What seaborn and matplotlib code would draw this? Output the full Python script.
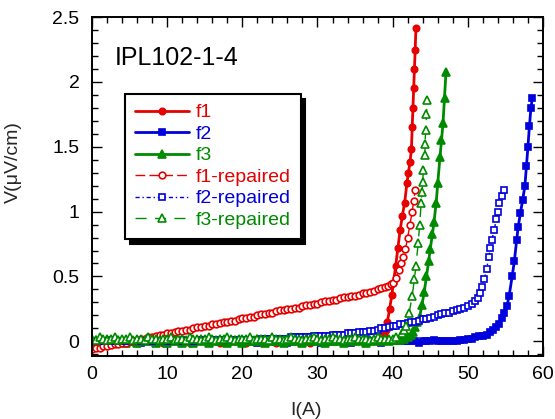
import matplotlib
matplotlib.use("Agg")
import matplotlib.pyplot as plt
import seaborn as sns
import pandas as pd
from matplotlib.ticker import MultipleLocator, FormatStrFormatter

# ---------------- data ----------------
# common current sweep 0 .. 48 A, step 0.5 A
I_sweep = [0.0, 0.5, 1.0, 1.5, 2.0, 2.5, 3.0, 3.5, 4.0, 4.5,
           5.0, 5.5, 6.0, 6.5, 7.0, 7.5, 8.0, 8.5, 9.0, 9.5,
           10.0, 10.5, 11.0, 11.5, 12.0, 12.5, 13.0, 13.5, 14.0, 14.5,
           15.0, 15.5, 16.0, 16.5, 17.0, 17.5, 18.0, 18.5, 19.0, 19.5,
           20.0, 20.5, 21.0, 21.5, 22.0, 22.5, 23.0, 23.5, 24.0, 24.5,
           25.0, 25.5, 26.0, 26.5, 27.0, 27.5, 28.0, 28.5, 29.0, 29.5,
           30.0, 30.5, 31.0, 31.5, 32.0, 32.5, 33.0, 33.5, 34.0, 34.5,
           35.0, 35.5, 36.0, 36.5, 37.0, 37.5, 38.0, 38.5, 39.0, 39.5,
           40.0, 40.5, 41.0, 41.5, 42.0, 42.5, 43.0, 43.5, 44.0, 44.5,
           45.0, 45.5, 46.0, 46.5, 47.0, 47.5, 48.0]

# f1 (filled circles)
f1_I = I_sweep[:74] + [37.0, 37.5, 38.0, 38.4, 38.8, 39.1, 39.3, 39.6, 39.9, 40.1,
                       40.4, 40.7, 41.0, 41.3, 41.6, 41.9, 42.1, 42.3, 42.5, 42.6,
                       42.7, 42.8, 42.9, 43.0, 43.1]
f1_V = [0.00, 0.00, 0.01, 0.00, 0.00, -0.01, 0.00, 0.00, 0.01, 0.00,
        0.00, 0.00, -0.01, 0.00, 0.00, 0.01, 0.00, 0.00, 0.00, -0.01,
        0.00, 0.00, 0.01, 0.00, 0.00, 0.00, -0.01, 0.00, 0.00, 0.01,
        0.00, 0.00, 0.00, 0.00, -0.01, 0.00, 0.01, 0.00, 0.00, 0.00,
        0.00, -0.01, 0.00, 0.00, 0.01, 0.00, 0.00, 0.00, 0.00, -0.01,
        0.00, 0.00, 0.01, 0.00, 0.00, 0.00, 0.00, 0.00, -0.01, 0.00,
        0.01, 0.00, 0.00, 0.00, 0.00, 0.00, 0.01, 0.00, 0.00, 0.01,
        0.00, 0.01, 0.00, 0.01,
        0.00, 0.01, 0.02, 0.03, 0.05, 0.09, 0.15, 0.25, 0.36, 0.45,
        0.58, 0.72, 0.86, 0.97, 1.07, 1.22, 1.30, 1.38, 1.48, 1.65,
        1.80, 1.95, 2.10, 2.25, 2.42]

# f2 (filled squares)
f2_I = I_sweep[:97] + [48.5, 49.0, 49.5, 50.0, 50.5, 51.0, 51.5, 52.0, 52.6, 53.0,
                       53.4, 53.8, 54.2, 54.5, 54.8, 55.2, 55.5, 55.9, 56.2, 56.5,
                       56.7, 57.0, 57.3, 57.6, 57.8, 58.0, 58.2, 58.4, 58.6]
f2_V = [0.00, -0.01, 0.00, 0.00, 0.00, 0.01, 0.00, 0.00, -0.01, 0.00,
        0.00, 0.00, 0.00, -0.01, 0.00, 0.00, 0.01, 0.00, 0.00, 0.00,
        -0.01, 0.00, 0.00, 0.00, 0.01, 0.00, 0.00, -0.01, 0.00, 0.00,
        0.00, 0.00, 0.01, 0.00, 0.00, 0.00, -0.01, 0.00, 0.00, 0.00,
        0.00, 0.01, 0.00, 0.00, -0.01, 0.00, 0.00, 0.00, 0.00, 0.01,
        0.00, 0.00, -0.01, 0.00, 0.00, 0.00, 0.01, 0.00, 0.00, 0.00,
        0.00, -0.01, 0.00, 0.00, 0.00, 0.01, 0.00, 0.00, 0.00, -0.01,
        0.00, 0.00, 0.00, 0.01, 0.00, 0.00, 0.00, -0.01, 0.00, 0.00,
        0.00, 0.00, 0.01, 0.00, 0.00, 0.00, 0.00, -0.01, 0.00, 0.00,
        0.00, 0.01, 0.00, 0.00, 0.00, 0.00, 0.00,
        0.00, 0.01, 0.01, 0.02, 0.02, 0.03, 0.04, 0.04, 0.05, 0.07,
        0.09, 0.11, 0.13, 0.18, 0.22, 0.27, 0.35, 0.50, 0.62, 0.78,
        0.88, 0.99, 1.09, 1.20, 1.35, 1.50, 1.66, 1.80, 1.88]

# f3 (filled triangles)
f3_I = I_sweep[:83] + [41.5, 42.0, 42.4, 42.7, 43.0, 43.3, 43.6, 43.9, 44.2, 44.5,
                       44.8, 45.0, 45.3, 45.5, 45.8, 46.0, 46.3, 46.5, 46.7, 46.9,
                       47.1]
f3_V = [0.00, 0.01, -0.01, 0.00, 0.02, 0.00, -0.01, 0.01, 0.00, -0.01,
        0.01, 0.00, -0.01, 0.01, 0.00, 0.02, 0.00, -0.01, 0.00, 0.01,
        -0.01, 0.00, 0.01, 0.00, -0.01, 0.00, 0.01, -0.01, 0.00, 0.02,
        0.00, -0.01, 0.01, 0.00, 0.00, 0.01, -0.01, 0.00, 0.01, 0.00,
        -0.01, 0.01, 0.00, 0.00, 0.02, 0.00, -0.01, 0.00, 0.01, 0.00,
        0.00, -0.01, 0.01, 0.00, 0.00, 0.01, -0.01, 0.00, 0.01, 0.00,
        0.00, 0.01, -0.01, 0.00, 0.00, 0.01, 0.00, -0.01, 0.01, 0.00,
        0.00, 0.01, 0.00, -0.01, 0.00, 0.01, 0.00, 0.00, 0.01, 0.00,
        0.01, 0.01, 0.01,
        0.02, 0.03, 0.05, 0.07, 0.11, 0.15, 0.19, 0.28, 0.38, 0.50,
        0.62, 0.71, 0.83, 0.92, 1.07, 1.22, 1.42, 1.55, 1.68, 1.88,
        2.08]

# f1-repaired (open circles)
f1r_I = I_sweep[:79] + [39.4, 39.8, 40.1, 40.5, 40.8, 41.1, 41.4, 41.7, 42.0, 42.3,
                        42.6, 42.8, 43.0]
f1r_V = [-0.06, -0.05, -0.05, -0.04, -0.04, -0.03, -0.02, -0.02, -0.01, -0.01,
         0.00, 0.00, 0.01, 0.02, 0.02, 0.03, 0.03, 0.04, 0.05, 0.05,
         0.06, 0.06, 0.07, 0.08, 0.08, 0.09, 0.09, 0.10, 0.11, 0.11,
         0.12, 0.12, 0.13, 0.13, 0.14, 0.15, 0.15, 0.16, 0.16, 0.17,
         0.18, 0.18, 0.19, 0.19, 0.20, 0.21, 0.21, 0.22, 0.22, 0.23,
         0.24, 0.24, 0.25, 0.25, 0.26, 0.26, 0.27, 0.28, 0.28, 0.29,
         0.29, 0.30, 0.31, 0.31, 0.32, 0.32, 0.33, 0.34, 0.34, 0.35,
         0.35, 0.36, 0.37, 0.37, 0.38, 0.39, 0.40, 0.41, 0.42,
         0.43, 0.44, 0.45, 0.49, 0.55, 0.60, 0.65, 0.71, 0.80, 0.90,
         1.00, 1.08, 1.17]

# f2-repaired (open squares)
f2r_I = I_sweep[:97] + [48.5, 49.0, 49.5, 50.0, 50.5, 51.0, 51.3, 51.6, 51.9, 52.2,
                        52.5, 52.8, 53.0, 53.2, 53.5, 53.8, 54.0, 54.2, 54.5, 54.8]
f2r_V = [0.00, 0.00, 0.00, 0.00, 0.00, 0.00, 0.00, 0.00, 0.00, 0.00,
         0.00, 0.00, 0.00, 0.00, 0.00, 0.00, 0.00, 0.00, 0.00, 0.00,
         0.00, 0.00, 0.00, 0.00, 0.00, 0.00, 0.00, 0.00, 0.00,
         0.01, 0.01, 0.01, 0.01, 0.01, 0.01, 0.01, 0.01, 0.01, 0.01,
         0.01, 0.01, 0.01, 0.01, 0.01, 0.01,
         0.02, 0.02, 0.02, 0.02, 0.02, 0.02, 0.02, 0.02,
         0.03, 0.03, 0.03, 0.03, 0.03, 0.03,
         0.04, 0.04, 0.04, 0.04, 0.04,
         0.05, 0.05, 0.05, 0.05,
         0.06, 0.06, 0.06,
         0.07, 0.07, 0.07,
         0.08, 0.08, 0.09, 0.10, 0.10, 0.11, 0.12, 0.12, 0.13, 0.13,
         0.14, 0.15, 0.15, 0.16, 0.17, 0.17, 0.18, 0.19, 0.20, 0.21,
         0.22, 0.22, 0.23,
         0.24, 0.25, 0.26, 0.27, 0.29, 0.31, 0.33, 0.37, 0.42, 0.48,
         0.56, 0.65, 0.72, 0.78, 0.86, 0.94, 1.00, 1.07, 1.12, 1.17]

# f3-repaired (open triangles)
f3r_I = I_sweep[:81] + [40.5, 41.2, 41.5, 41.8, 42.2, 42.6, 42.9, 43.1, 43.4, 43.6,
                        43.8, 43.9, 44.0, 44.1, 44.3, 44.3, 44.4, 44.5, 44.6]
f3r_V = [0.02, 0.01, 0.03, 0.02, 0.01, 0.02, 0.03, 0.01, 0.02, 0.02,
         0.03, 0.01, 0.02, 0.02, 0.01, 0.03, 0.02, 0.02, 0.01, 0.02,
         0.02, 0.03, 0.01, 0.02, 0.02, 0.01, 0.03, 0.02, 0.02, 0.01,
         0.02, 0.03, 0.02, 0.01, 0.02, 0.02, 0.03, 0.02, 0.01, 0.02,
         0.02, 0.02, 0.03, 0.01, 0.02, 0.02, 0.02, 0.01, 0.03, 0.02,
         0.02, 0.01, 0.02, 0.03, 0.02, 0.02, 0.01, 0.02, 0.02, 0.03,
         0.02, 0.01, 0.02, 0.02, 0.03, 0.02, 0.02, 0.01, 0.02, 0.02,
         0.03, 0.02, 0.02, 0.02, 0.01, 0.02, 0.03, 0.02, 0.02, 0.02,
         0.02,
         0.03, 0.06, 0.09, 0.12, 0.22, 0.35, 0.48, 0.58, 0.76, 0.90,
         1.07, 1.15, 1.23, 1.32, 1.44, 1.52, 1.63, 1.75, 1.86]

labels = ["f1", "f2", "f3", "f1-repaired", "f2-repaired", "f3-repaired"]
title_text = "IPL102-1-4"
x_label = "I(A)"
y_label = "V(\u03bcV/cm)"

# ---------------- style ----------------
RED, BLUE, GREEN = "#e60000", "#0000dd", "#008a00"
sns.set_theme(style="ticks")
plt.rcParams["font.family"] = ["Liberation Sans", "DejaVu Sans"]

fig = plt.figure(figsize=(5.55, 4.19), dpi=100)
ax = fig.add_axes([0.1658, 0.150, 0.8125, 0.809])

specs = [
    (labels[0], f1_I, f1_V, RED, "o", True, "-", 4.6, 2.0),
    (labels[1], f2_I, f2_V, BLUE, "s", True, "-", 4.6, 2.0),
    (labels[2], f3_I, f3_V, GREEN, "^", True, "-", 5.2, 2.0),
    (labels[3], f1r_I, f1r_V, RED, "o", False, (0, (7, 3)), 4.8, 1.0),
    (labels[4], f2r_I, f2r_V, BLUE, "s", False, (0, (3, 2, 1, 2)), 4.8, 1.0),
    (labels[5], f3r_I, f3r_V, GREEN, "^", False, (0, (8, 6)), 5.4, 1.0),
]

handles = []
for name, xs, ys, col, mk, filled, ls, ms, lw in specs:
    df = pd.DataFrame({"I": xs, "V": ys})
    sns.lineplot(data=df, x="I", y="V", ax=ax, sort=False, estimator=None,
                 color=col, marker=mk, markersize=ms,
                 markerfacecolor=col if filled else "white",
                 markeredgecolor=col, markeredgewidth=1.2,
                 linewidth=lw, linestyle=ls, label=name, legend=False)
    handles.append(ax.lines[-1])

ax.set_xlim(0, 60)
ax.set_ylim(-0.115, 2.5)
ax.xaxis.set_major_locator(MultipleLocator(10))
ax.xaxis.set_minor_locator(MultipleLocator(2))
ax.yaxis.set_major_locator(MultipleLocator(0.5))
ax.yaxis.set_minor_locator(MultipleLocator(0.1))
ax.yaxis.set_major_formatter(FormatStrFormatter("%g"))

ax.tick_params(which="both", direction="in", top=True, right=True,
               colors="black", width=1.0)
ax.tick_params(which="major", length=7)
ax.tick_params(which="minor", length=4)
ax.tick_params(axis="x", which="major", labelsize=14, pad=7)
ax.tick_params(axis="y", which="major", labelsize=14, pad=9)
for sp in ax.spines.values():
    sp.set_linewidth(1.4)
    sp.set_color("black")

ax.set_xlabel(x_label, fontsize=14)
ax.set_ylabel(y_label, fontsize=14)
ax.xaxis.set_label_coords(0.474, -0.135)
ax.yaxis.set_label_coords(-0.155, 0.572)

ax.text(0.051, 0.858, title_text, transform=ax.transAxes, fontsize=18,
        va="baseline", ha="left", color="black")

leg = ax.legend(handles=handles, labels=labels, loc="upper left",
                bbox_to_anchor=(0.073, 0.773), borderaxespad=0,
                fontsize=14, handlelength=2.8, handletextpad=0.35,
                labelspacing=0.2, borderpad=0.5, numpoints=1,
                fancybox=False, framealpha=1, edgecolor="black",
                shadow={"color": "black", "alpha": 1, "ox": 3.5, "oy": -3.5})
leg.get_frame().set_linewidth(1.5)
for txt, col in zip(leg.get_texts(), [RED, BLUE, GREEN, RED, BLUE, GREEN]):
    txt.set_color(col)

fig.savefig("out.png", dpi=100)
